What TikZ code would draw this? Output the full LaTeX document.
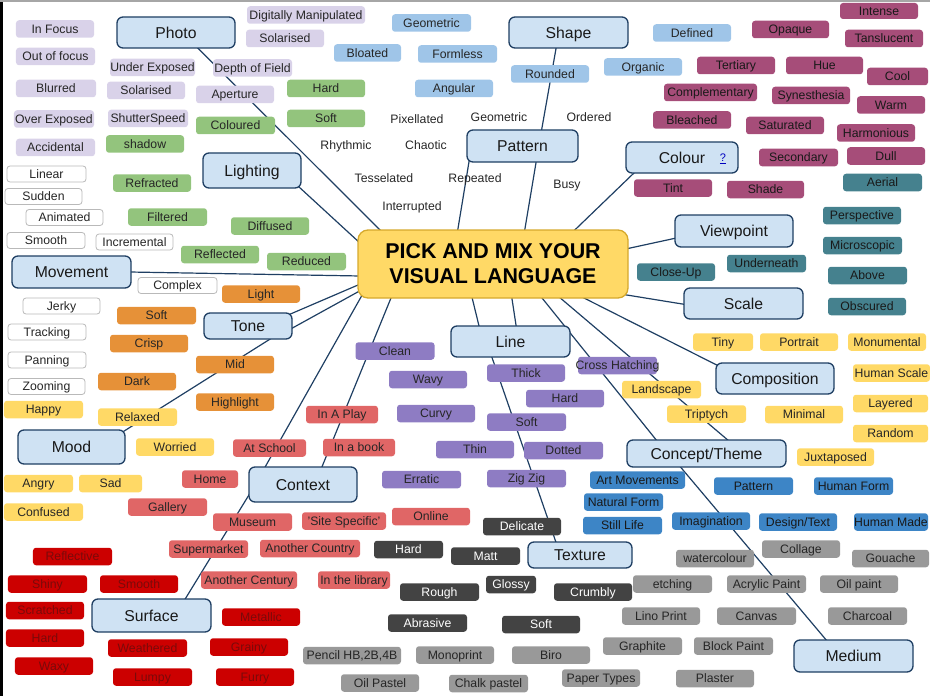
\documentclass[tikz,border=0pt]{standalone}
\usepackage{fontspec}
\setmainfont{Liberation Sans}
\usetikzlibrary{backgrounds}
\definecolor{topicfill}{HTML}{CFE2F3}
\definecolor{topicline}{HTML}{1F3F63}
\definecolor{connline}{HTML}{1F3F63}
\definecolor{hubfill}{HTML}{FFD966}
\definecolor{hubline}{HTML}{D6A92C}
\definecolor{clav}{HTML}{D9D2E9}
\definecolor{cgrn}{HTML}{93C47D}
\definecolor{cblu}{HTML}{9FC5E8}
\definecolor{cmag}{HTML}{A64D79}
\definecolor{cteal}{HTML}{45818E}
\definecolor{corg}{HTML}{E69138}
\definecolor{cyel}{HTML}{FFD966}
\definecolor{csal}{HTML}{E06666}
\definecolor{cpur}{HTML}{8E7CC3}
\definecolor{cblutwo}{HTML}{3D85C6}
\definecolor{cdark}{HTML}{434343}
\definecolor{cgray}{HTML}{999999}
\definecolor{cred}{HTML}{CC0000}
\definecolor{credtxt}{HTML}{7A0A0A}
\tikzset{
  topic/.style={draw=topicline, line width=1.3bp, fill=topicfill, rounded corners=6bp, inner sep=0pt, font=\fontsize{15.8}{17}\selectfont, text=black!90, text height=11.3bp, text depth=0pt},
  leaf/.style={rounded corners=3bp, inner sep=0pt, minimum width=78bp, minimum height=17.5bp, font=\fontsize{12.3}{14}\selectfont, text=black!85, text height=8.8bp, text depth=0pt},
  lav/.style={leaf, fill=clav},
  grn/.style={leaf, fill=cgrn},
  blu/.style={leaf, fill=cblu},
  mag/.style={leaf, fill=cmag, text=black!90},
  teal/.style={leaf, fill=cteal, text=black!90},
  wht/.style={leaf, fill=white, draw=gray!55, line width=0.8bp, minimum height=16bp},
  org/.style={leaf, fill=corg},
  yel/.style={leaf, fill=cyel},
  sal/.style={leaf, fill=csal},
  pur/.style={leaf, fill=cpur},
  bltwo/.style={leaf, fill=cblutwo, text=black!90},
  drk/.style={leaf, fill=cdark, text=white},
  gry/.style={leaf, fill=cgray},
  rd/.style={leaf, fill=cred, text=credtxt},
  plain/.style={inner sep=0pt, font=\fontsize{12.3}{14}\selectfont, text=black!85, text height=8.8bp, text depth=0pt},
  conn/.style={draw=connline, line width=1.2bp}
}
\begin{document}
\begin{tikzpicture}[x=1bp,y=-1bp]
\useasboundingbox (0,0) rectangle (930,696);
\fill[black] (0,0) rectangle (3,696);
\fill[gray!70] (0,0) rectangle (930,2);

% hub
\node[draw=hubline, line width=1.3bp, fill=hubfill, rounded corners=10bp, minimum width=270bp, minimum height=68bp, inner sep=0pt, align=center, font=\fontsize{21.5}{25}\selectfont\bfseries] (hub) at (493,264) {PICK AND MIX YOUR\\VISUAL LANGUAGE};

% topics
\node[topic, minimum width=118bp, minimum height=31bp] (photo) at (176,32.5) {Photo};
\node[topic, minimum width=98bp, minimum height=35bp] (lighting) at (252,170.5) {Lighting};
\node[topic, minimum width=119bp, minimum height=32bp] (movement) at (71.5,272) {Movement};
\node[topic, minimum width=88bp, minimum height=26bp] (tone) at (248,326) {Tone};
\node[topic, minimum width=107bp, minimum height=34bp] (mood) at (71.5,447) {Mood};
\node[topic, minimum width=108bp, minimum height=35bp] (context) at (303,484.5) {Context};
\node[topic, minimum width=119bp, minimum height=33bp] (surface) at (151.5,615.5) {Surface};
\node[topic, minimum width=119bp, minimum height=31bp] (line) at (510.5,341.5) {Line};
\node[topic, minimum width=104bp, minimum height=26bp] (texture) at (580,555) {Texture};
\node[topic, minimum width=159bp, minimum height=27bp] (concept) at (706.5,453.5) {Concept/Theme};
\node[topic, minimum width=119bp, minimum height=32bp] (medium) at (853.5,656) {Medium};
\node[topic, minimum width=118bp, minimum height=31bp] (composition) at (775,378.5) {Composition};
\node[topic, minimum width=119bp, minimum height=31bp] (scale) at (743.5,303.5) {Scale};
\node[topic, minimum width=118bp, minimum height=32bp] (viewpoint) at (734,231) {Viewpoint};
\node[topic, minimum width=112bp, minimum height=31bp] (colour) at (682,157.5) {Colour};
\node[inner sep=0pt, font=\fontsize{11}{12}\selectfont, text=blue!75!black] (colq) at (723,159) {\underline{?}};
\node[topic, minimum width=111bp, minimum height=32bp] (pattern) at (522.5,146) {Pattern};
\node[topic, minimum width=119bp, minimum height=31bp] (shape) at (568.5,32.5) {Shape};

% photo leaves
\node[lav] (infocus) at (55,29) {In Focus};
\node[lav, minimum width=79bp] (outfocus) at (55.5,56.5) {Out of focus};
\node[lav, minimum width=80bp] (blurred) at (56,88.5) {Blurred};
\node[lav, minimum width=80bp] (overexp) at (54,119) {Over Exposed};
\node[lav, minimum width=79bp] (accidental) at (55.5,147.5) {Accidental};
\node[lav, minimum width=85bp] (underexp) at (152.5,67.5) {Under Exposed};
\node[lav] (solarisedA) at (146,90.5) {Solarised};
\node[lav, minimum width=80bp] (shutter) at (148,118.5) {ShutterSpeed};
\node[lav, minimum width=79bp] (depth) at (252.5,68) {Depth of Field};
\node[lav] (aperture) at (235,94.5) {Aperture};
\node[lav, minimum width=118bp] (digital) at (306,15) {Digitally Manipulated};
\node[lav] (solarisedB) at (285,38.5) {Solarised};

% lighting leaves
\node[grn] (hardG) at (326,88.5) {Hard};
\node[grn] (softG) at (326,118.5) {Soft};
\node[grn, minimum width=79bp] (coloured) at (235.5,125.5) {Coloured};
\node[grn] (shadow) at (145,144) {shadow};
\node[grn] (refracted) at (152,183) {Refracted};
\node[grn, minimum width=79bp] (filtered) at (167.5,217) {Filtered};
\node[grn] (diffused) at (270,226) {Diffused};
\node[grn] (reflected) at (220,254.5) {Reflected};
\node[grn, minimum width=79bp] (reduced) at (306.5,261.5) {Reduced};

% shape leaves
\node[blu, minimum width=79bp] (geometricB) at (431.5,23) {Geometric};
\node[blu, minimum width=67bp] (bloated) at (367.5,53) {Bloated};
\node[blu, minimum width=79bp] (formless) at (457.5,54) {Formless};
\node[blu] (angular) at (454,88.5) {Angular};
\node[blu] (rounded) at (550,74) {Rounded};
\node[blu] (defined) at (692,33) {Defined};
\node[blu] (organic) at (643,67) {Organic};

% pattern words
\node[plain] (pixellated) at (417,119) {Pixellated};
\node[plain] (geometricP) at (499,117) {Geometric};
\node[plain] (ordered) at (589,117) {Ordered};
\node[plain] (rhythmic) at (346,145) {Rhythmic};
\node[plain] (chaotic) at (426,145) {Chaotic};
\node[plain] (tesselated) at (384,178) {Tesselated};
\node[plain] (repeated) at (475,178) {Repeated};
\node[plain] (busy) at (567,184) {Busy};
\node[plain] (interrupted) at (412,206) {Interrupted};

% colour leaves
\node[mag, minimum height=16bp] (intense) at (879,11) {Intense};
\node[mag, minimum width=77bp] (opaque) at (790.5,29.5) {Opaque};
\node[mag] (tanslucent) at (884,38.5) {Tanslucent};
\node[mag] (tertiary) at (736,65.5) {Tertiary};
\node[mag, minimum width=77bp] (hue) at (824.5,65.5) {Hue};
\node[mag, minimum width=61bp] (cool) at (897.5,76.5) {Cool};
\node[mag, minimum width=93bp] (complementary) at (710.5,92.5) {Complementary};
\node[mag] (synesthesia) at (811,95.5) {Synesthesia};
\node[mag, minimum width=68bp] (warm) at (891,105) {Warm};
\node[mag] (bleached) at (692,120) {Bleached};
\node[mag] (saturated) at (785,125.5) {Saturated};
\node[mag] (harmonious) at (876,133) {Harmonious};
\node[mag, minimum width=79bp] (secondary) at (798.5,157.5) {Secondary};
\node[mag] (dull) at (886,156) {Dull};
\node[mag] (tint) at (673,188) {Tint};
\node[mag, minimum width=77bp] (shade) at (765.5,189.5) {Shade};

% viewpoint / scale leaves
\node[teal, minimum width=79bp] (aerial) at (882.5,182.5) {Aerial};
\node[teal] (perspective) at (862,215.5) {Perspective};
\node[teal, minimum width=79bp] (microscopic) at (862.5,245.5) {Microscopic};
\node[teal, minimum width=79bp] (underneath) at (766.5,263.5) {Underneath};
\node[teal] (closeup) at (676,272) {Close-Up};
\node[teal, minimum width=79bp] (above) at (867.5,275.5) {Above};
\node[teal] (obscured) at (867,306.5) {Obscured};

% movement leaves
\node[wht, minimum width=79bp] (linear) at (46.5,174) {Linear};
\node[wht, minimum width=77bp] (sudden) at (43.5,196.5) {Sudden};
\node[wht, minimum width=77bp] (animated) at (64.5,217.5) {Animated};
\node[wht] (smooth) at (46,240.5) {Smooth};
\node[wht, minimum width=77bp] (incremental) at (134.5,242) {Incremental};
\node[wht, minimum width=79bp] (complex) at (177.5,285.5) {Complex};
\node[wht, minimum width=77bp] (jerky) at (61.5,306) {Jerky};
\node[wht] (tracking) at (47,332) {Tracking};
\node[wht] (panning) at (47,360) {Panning};
\node[wht, minimum width=77bp] (zooming) at (46.5,386.5) {Zooming};

% tone leaves
\node[org] (light) at (261,294) {Light};
\node[org, minimum width=79bp] (softO) at (156.5,315.5) {Soft};
\node[org] (crisp) at (149,343.5) {Crisp};
\node[org] (mid) at (235,364.5) {Mid};
\node[org] (dark) at (137,381.5) {Dark};
\node[org] (highlight) at (235,402) {Highlight};

% mood leaves
\node[yel, minimum width=79bp] (happy) at (43.5,409.5) {Happy};
\node[yel, minimum width=79bp] (relaxed) at (137.5,417) {Relaxed};
\node[yel] (worried) at (175,447) {Worried};
\node[yel, minimum width=69bp] (angry) at (38.5,483.5) {Angry};
\node[yel, minimum width=63bp] (sad) at (110.5,483.5) {Sad};
\node[yel, minimum width=79bp] (confused) at (43.5,512) {Confused};

% context leaves
\node[sal, minimum width=72bp] (inaplay) at (342,414.5) {In A Play};
\node[sal, minimum width=73bp] (atschool) at (269.5,448) {At School};
\node[sal, minimum width=72bp] (inabook) at (359,447.5) {In a book};
\node[sal, minimum width=56bp] (home) at (210,479) {Home};
\node[sal, minimum width=79bp] (gallery) at (167.5,507) {Gallery};
\node[sal, minimum width=79bp] (museum) at (252.5,522) {Museum};
\node[sal, minimum width=84bp] (sitespec) at (344,521) {'Site Specific'};
\node[sal] (online) at (431,516.5) {Online};
\node[sal, minimum width=79bp] (supermarket) at (208.5,549) {Supermarket};
\node[sal, minimum width=100bp] (anothercountry) at (310,548.5) {Another Country};
\node[sal, minimum width=96bp] (anothercentury) at (249,580) {Another Century};
\node[sal, minimum width=72bp] (library) at (354,580) {In the library};

% line leaves
\node[pur, minimum width=79bp] (clean) at (395,351) {Clean};
\node[pur] (wavy) at (428,379.5) {Wavy};
\node[pur] (curvy) at (436,413.5) {Curvy};
\node[pur] (thick) at (526,373) {Thick};
\node[pur] (hardP) at (565,398.5) {Hard};
\node[pur, minimum width=79bp] (softP) at (526.5,422) {Soft};
\node[pur] (thin) at (475,449.5) {Thin};
\node[pur, minimum width=79bp] (dotted) at (563.5,450.5) {Dotted};
\node[pur, minimum width=79bp] (erratic) at (421.5,479.5) {Erratic};
\node[pur, minimum width=79bp] (zigzig) at (526.5,478.5) {Zig Zig};
\node[pur, minimum width=79bp] (crosshatch) at (617.5,365.5) {\makebox[79bp][c]{Cross Hatching}};

% composition leaves
\node[yel, minimum width=79bp] (landscape) at (661.5,389.5) {Landscape};
\node[yel, minimum width=79bp] (triptych) at (706.5,414) {Triptych};
\node[yel, minimum width=60bp] (tiny) at (723,342) {Tiny};
\node[yel] (portrait) at (799,342) {Portrait};
\node[yel] (monumental) at (887,342) {Monumental};
\node[yel, minimum width=77bp] (humanscale) at (891.5,373) {Human Scale};
\node[yel, minimum width=75bp] (layered) at (890.5,403.5) {Layered};
\node[yel] (minimal) at (804,414.5) {Minimal};
\node[yel, minimum width=75bp] (random) at (890.5,433.5) {Random};
\node[yel, minimum width=77bp] (juxtaposed) at (835.5,457) {Juxtaposed};

% concept leaves
\node[bltwo, minimum width=95bp] (artmov) at (637.5,480) {Art Movements};
\node[bltwo, minimum width=79bp] (naturalform) at (623.5,502) {Natural Form};
\node[bltwo, minimum width=79bp] (stilllife) at (622.5,525.5) {Still Life};
\node[bltwo, minimum width=79bp] (patternB) at (753.5,486) {Pattern};
\node[bltwo, minimum width=79bp] (humanform) at (853.5,486) {Human Form};
\node[bltwo] (imagination) at (711,521) {Imagination};
\node[bltwo] (designtext) at (798,522) {Design/Text};
\node[bltwo, minimum width=74bp] (humanmade) at (891,522) {Human Made};

% texture leaves
\node[drk] (delicate) at (522,526.5) {Delicate};
\node[drk, minimum width=69bp] (hardD) at (408.5,549.5) {Hard};
\node[drk, minimum width=69bp] (matt) at (485.5,556) {Matt};
\node[drk, minimum width=50bp] (glossy) at (511,584.5) {Glossy};
\node[drk, minimum width=79bp] (rough) at (439.5,592) {Rough};
\node[drk] (crumbly) at (593,592) {Crumbly};
\node[drk, minimum width=79bp] (abrasive) at (427.5,623) {Abrasive};
\node[drk] (softD) at (541,624.5) {Soft};

% medium leaves
\node[gry] (collage) at (801,549) {Collage};
\node[gry] (watercolour) at (715,558.5) {watercolour};
\node[gry, minimum width=77bp] (gouache) at (890.5,558.5) {Gouache};
\node[gry, minimum width=79bp] (etching) at (672.5,584) {etching};
\node[gry, minimum width=79bp] (acrylic) at (766.5,584) {Acrylic Paint};
\node[gry] (oilpaint) at (859,584) {Oil paint};
\node[gry] (lino) at (661,616) {Lino Print};
\node[gry, minimum width=79bp] (canvas) at (756.5,616) {Canvas};
\node[gry, minimum width=79bp] (charcoal) at (867.5,616) {Charcoal};
\node[gry, minimum width=79bp] (graphite) at (642.5,646) {Graphite};
\node[gry, minimum width=79bp] (blockpaint) at (733.5,646) {Block Paint};
\node[gry] (plaster) at (715,678.5) {Plaster};
\node[gry] (papertypes) at (601,678) {Paper Types};
\node[gry, minimum width=98bp] (pencil) at (352,655.5) {Pencil HB,2B,4B};
\node[gry] (monoprint) at (455,655) {Monoprint};
\node[gry] (biro) at (551,655) {Biro};
\node[gry] (oilpastel) at (380,683) {Oil Pastel};
\node[gry, minimum width=79bp] (chalkpastel) at (488.5,683.5) {Chalk pastel};

% surface leaves
\node[rd, minimum width=79bp] (reflective) at (72.5,556.5) {Reflective};
\node[rd, minimum width=79bp] (shiny) at (47.5,584) {Shiny};
\node[rd] (smoothR) at (139,584) {Smooth};
\node[rd] (scratched) at (45,610.5) {Scratched};
\node[rd] (metallic) at (261,617) {Metallic};
\node[rd] (hardR) at (45,638) {Hard};
\node[rd, minimum width=79bp] (weathered) at (147.5,648) {Weathered};
\node[rd] (grainy) at (249,647) {Grainy};
\node[rd] (waxy) at (54,666) {Waxy};
\node[rd, minimum width=79bp] (lumpy) at (152.5,677) {Lumpy};
\node[rd] (furry) at (255,677) {Furry};

% connectors
\begin{scope}[on background layer]
\draw[conn] ([xshift=80bp,yshift=2bp]photo.south west) -- ([xshift=25bp,yshift=-3bp]hub.north west);
\draw[conn] ([xshift=-3bp,yshift=2bp]lighting.south east) -- ([xshift=3bp,yshift=-14bp]hub.north west);
\draw[conn] ([xshift=-2bp]movement.east) -- ([xshift=3bp,yshift=-12bp]hub.west);
\draw[conn] ([xshift=-3bp,yshift=-2bp]tone.north east) -- ([xshift=3bp,yshift=-20bp]hub.west);
\draw[conn] ([xshift=-2bp,yshift=-3bp]tone.east) -- ([xshift=4bp,yshift=-26bp]hub.west);
\draw[conn] ([xshift=69bp,yshift=2bp]tone.south west) -- ([xshift=-2bp,yshift=-2bp]mood.north east);
\draw[conn] ([xshift=5bp,yshift=4bp]hub.south west) -- ([xshift=16bp,yshift=-2bp]context.north west);
\draw[conn] ([xshift=35bp,yshift=4bp]hub.south west) -- ([xshift=73bp,yshift=-2bp]context.north west);
\draw[conn] ([xshift=2bp,yshift=10bp]context.south west) -- ([xshift=93bp,yshift=-2bp]surface.north west);
\draw[conn] ([xshift=114bp,yshift=4bp]hub.south west) -- ([xshift=29bp,yshift=-2bp]line.north west);
\draw[conn] ([xshift=154bp,yshift=4bp]hub.south west) -- ([xshift=66bp,yshift=-2bp]line.north west);
\draw[conn] ([xshift=41bp,yshift=2bp]line.south west) -- ([xshift=29bp,yshift=-2bp]texture.north west);
\draw[conn] ([xshift=182bp,yshift=4bp]hub.south west) -- ([xshift=31bp,yshift=-2bp]concept.north west);
\draw[conn] ([xshift=199bp,yshift=4bp]hub.south west) -- ([xshift=103bp,yshift=-2bp]concept.north west);
\draw[conn] ([xshift=220bp,yshift=4bp]hub.south west) -- ([xshift=2bp,yshift=-3bp]composition.north west);
\draw[conn] ([xshift=-4bp,yshift=4bp]hub.south east) -- ([xshift=2bp,yshift=-1bp]scale.west);
\draw[conn] ([xshift=-3bp,yshift=15bp]hub.east) -- ([xshift=2bp,yshift=-7bp]viewpoint.west);
\draw[conn] ([xshift=215bp,yshift=-3bp]hub.north west) -- ([xshift=10bp,yshift=2bp]colour.south west);
\draw[conn] ([xshift=100bp,yshift=-3bp]hub.north west) -- ([xshift=3bp,yshift=3bp]pattern.south west);
\draw[conn] ([xshift=167bp,yshift=-3bp]hub.north west) -- ([xshift=70bp,yshift=2bp]pattern.south west);
\draw[conn] ([xshift=75bp,yshift=-2bp]pattern.north west) -- ([xshift=48bp,yshift=2bp]shape.south west);
\draw[conn] ([xshift=53bp,yshift=2bp]concept.south west) -- ([xshift=34bp,yshift=-2bp]medium.north west);
\end{scope}
\end{tikzpicture}
\end{document}
